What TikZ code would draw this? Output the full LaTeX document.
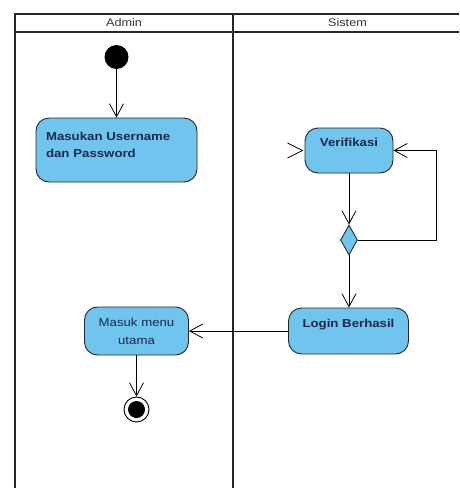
\documentclass[tikz,border=0pt]{standalone}
\usepackage{fontspec}
\setmainfont{Liberation Sans}[FakeStretch=1.15]
\usepackage{tikz}
\usetikzlibrary{shapes.geometric,arrows.meta}
\definecolor{actblue}{RGB}{111,197,238}
\definecolor{acttext}{RGB}{28,40,72}
\tikzstyle{lane}=[line width=1.5pt,draw=black!85]
\tikzstyle{header}=[font=\fontsize{11}{13}\selectfont,text=black!80]
\tikzstyle{action}=[draw=black!85,line width=0.9pt,fill=actblue,rounded corners=13pt,
  text=acttext,font=\fontsize{11.5}{16.5}\selectfont\bfseries,text height=8.5pt,text depth=16pt]
\tikzstyle{plain}=[font=\fontsize{11.5}{17.5}\selectfont\mdseries,align=center,
  text height=26pt,text depth=0pt]
\tikzstyle{decision}=[diamond,draw=black!85,line width=0.9pt,fill=actblue,
  minimum width=17pt,minimum height=30pt,inner sep=0pt]
\tikzstyle{flow}=[line width=0.8pt,-{Straight Barb[length=13pt,width=14pt]}]

\begin{document}
\begin{tikzpicture}[x=1pt,y=-1pt]
  \useasboundingbox (0,0) rectangle (459,488);
  \clip (0,0) rectangle (459,488);
  % swimlanes
  \draw[lane] (15,495) -- (15,14) -- (470,14);
  \draw[lane] (15,32) -- (470,32);
  \draw[lane] (233,14) -- (233,495);
  \node[header] (admin) at (124,23) {Admin};
  \node[header] (sistem) at (347.5,23) {Sistem};

  \node[circle,fill=black,minimum size=24pt,inner sep=0pt] (start) at (116.5,57) {};
  \node[action,minimum width=161pt,minimum height=64pt,text width=141pt,inner xsep=10pt,
    align=left,text depth=27.5pt] (input) at (116.5,150) {Masukan Username\\dan Password};
  \node[action,minimum width=88pt,minimum height=45pt] (verif) at (349,150.5) {Verifikasi};
  \node[decision] (dec) at (349,240) {};
  \node[action,minimum width=120pt,minimum height=46pt] (login) at (348.5,331) {Login Berhasil};
  \node[action,plain,minimum width=104pt,minimum height=48pt] (menu) at (136.5,331) {Masuk menu\\utama};
  \node[circle,draw=black,line width=0.9pt,minimum size=25pt,inner sep=0pt] (stop) at (136.5,409.5) {};
  \node[circle,fill=black,minimum size=17pt,inner sep=0pt] (stopdot) at (stop) {};

  \coordinate (loop) at (436,240);
  \draw[flow] (start) -- (input);
  \draw[line width=0.8pt] ([shift={(-17pt,7.5pt)}]verif.west) -- ([xshift=-2pt]verif.west)
    -- ([shift={(-17pt,-7.5pt)}]verif.west);
  \draw[flow] (verif) -- (dec);
  \draw[flow] (dec.east) -- (loop) |- (verif.east);
  \draw[flow] (dec.south) -- (dec.south |- login.north);
  \draw[flow] (login) -- (menu);
  \draw[flow] (menu) -- (stop);
\end{tikzpicture}
\end{document}
